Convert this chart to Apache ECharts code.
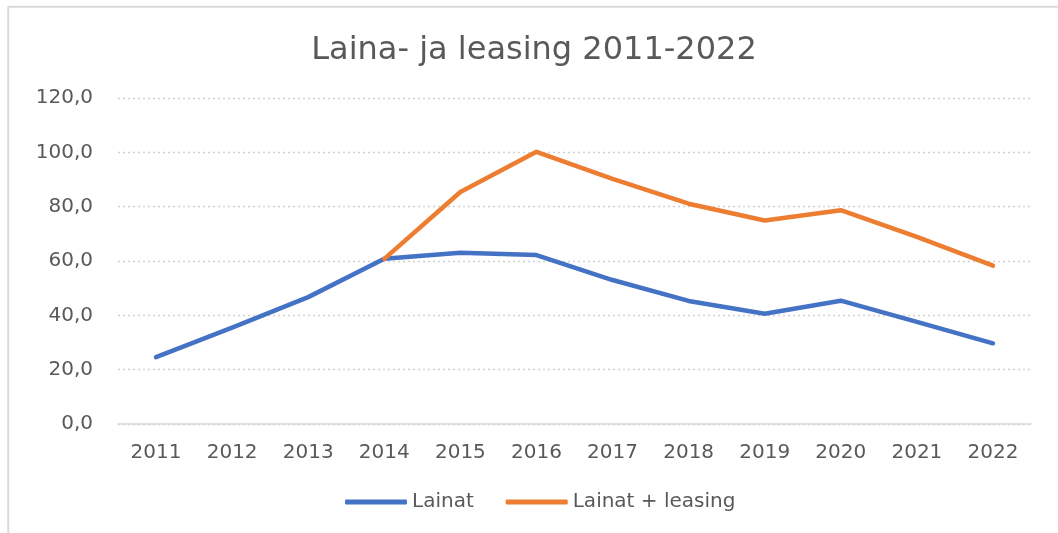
<!DOCTYPE html>
<html>
<head>
<meta charset="utf-8">
<script src="https://cdn.jsdelivr.net/npm/echarts@6/dist/echarts.min.js"></script>
<style>
html,body{margin:0;padding:0;background:#fff;}
#chart{width:1058px;height:533px;}
</style>
</head>
<body>
<div id="chart"></div>
<script>
const titleText = 'Laina- ja leasing 2011-2022';
const years = ['2011','2012','2013','2014','2015','2016','2017','2018','2019','2020','2021','2022'];
const lainat = [24.6, 35.5, 46.7, 60.8, 63.0, 62.2, 53.0, 45.3, 40.6, 45.4, 37.6, 29.7];
const lainatLeasing = [null, null, null, 60.8, 85.4, 100.2, 90.2, 81.1, 74.9, 78.7, 68.9, 58.3];
const seriesNames = ['Lainat', 'Lainat + leasing'];
const seriesColors = ['#4472C4', '#ED7D31'];
const yTicks = [0, 20, 40, 60, 80, 100, 120];

const font = 'DejaVu Sans';
const chart = echarts.init(document.getElementById('chart'), null, {renderer: 'canvas'});
chart.setOption({
  animation: false,
  backgroundColor: '#fff',
  title: {
    text: titleText,
    left: 529,
    top: 30,
    textAlign: 'center',
    textStyle: {fontFamily: font, fontSize: 32, fontWeight: 'normal', color: '#595959'}
  },
  graphic: [{
    type: 'rect',
    shape: {x: 8.3, y: 6.7, width: 1200, height: 700},
    style: {fill: 'none', stroke: '#d9d9d9', lineWidth: 2},
    silent: true
  }],
  grid: {left: 118, right: 27, top: 98, bottom: 109, containLabel: false},
  legend: {
    bottom: 16,
    left: 340,
    itemWidth: 62,
    itemHeight: 5,
    itemGap: 32,
    icon: 'roundRect',
    textStyle: {fontFamily: font, fontSize: 20, color: '#595959'},
    data: seriesNames
  },
  xAxis: {
    type: 'category',
    data: years,
    boundaryGap: true,
    axisLine: {show: true, lineStyle: {color: '#d9d9d9', width: 1.5}},
    axisTick: {show: false},
    axisLabel: {fontFamily: font, fontSize: 20, color: '#595959', margin: 19}
  },
  yAxis: {
    type: 'value',
    min: yTicks[0],
    max: yTicks[yTicks.length - 1],
    interval: 20,
    axisLine: {show: false},
    axisTick: {show: false},
    splitLine: {lineStyle: {color: '#d0d0d0', type: [2, 3], width: 1.3}},
    axisLabel: {
      fontFamily: font, fontSize: 20, color: '#595959', margin: 25,
      formatter: v => v.toFixed(1).replace('.', ',')
    }
  },
  series: [
    {
      name: seriesNames[0], type: 'line', data: lainat, showSymbol: false, symbol: 'none',
      color: seriesColors[0],
      lineStyle: {width: 4.5, color: seriesColors[0], cap: 'round', join: 'round'}
    },
    {
      name: seriesNames[1], type: 'line', data: lainatLeasing, showSymbol: false, symbol: 'none',
      color: seriesColors[1], connectNulls: false,
      lineStyle: {width: 4.5, color: seriesColors[1], cap: 'round', join: 'round'}
    }
  ]
});
</script>
</body>
</html>
